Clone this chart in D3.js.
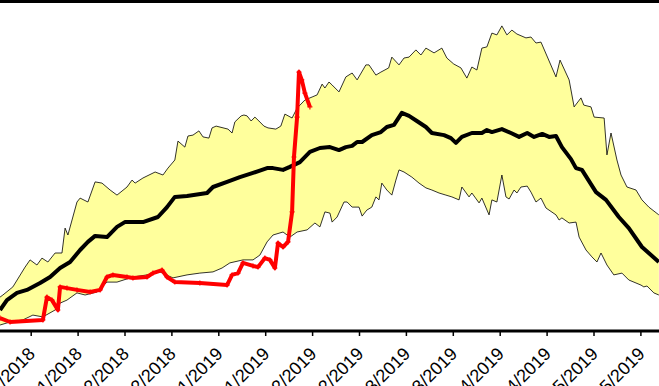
<!DOCTYPE html>
<html><head><meta charset="utf-8">
<script src="https://cdn.jsdelivr.net/npm/d3@7/dist/d3.min.js"></script>
<style>html,body{margin:0;padding:0;background:#fff;overflow:hidden}svg{display:block}</style>
</head><body><div id="chart"></div>
<script>
// x: days since 01/11/2018 ; y: value (arbitrary units, hidden axis)
const tickDays = [0,15,30,45,60,75,90,105,120,135,150,165,180,195];
const tickLabels = ["01/11/2018","15/11/2018","01/12/2018","15/12/2018","01/01/2019","15/01/2019","01/02/2019","15/02/2019","01/03/2019","15/03/2019","01/04/2019","15/04/2019","01/05/2019","15/05/2019"];

const bandUpper = [[-9.8,11.3],[-8.9,12.0],[-5.7,14.7],[-1.8,21.3],[-0.2,23.7],[2.0,22.0],[3.6,24.3],[5.5,23.0],[7.8,26.0],[10.0,26.0],[11.0,34.3],[11.9,32.0],[14.8,43.0],[15.8,44.3],[18.3,43.0],[20.6,49.7],[22.8,49.3],[25.4,47.0],[27.6,45.3],[30.8,48.0],[32.4,50.3],[33.4,49.3],[35.9,51.0],[39.8,53.0],[42.3,52.0],[43.9,54.3],[46.1,57.0],[47.1,63.3],[49.3,61.3],[50.3,65.0],[51.9,65.3],[53.8,66.7],[55.1,64.7],[57.0,64.3],[58.0,67.7],[59.3,68.3],[63.1,67.3],[64.4,66.0],[65.3,69.7],[67.3,71.7],[68.2,72.0],[69.2,71.7],[70.5,70.0],[71.7,71.3],[73.0,70.0],[74.6,68.3],[75.9,67.7],[78.4,67.3],[80.0,68.3],[81.3,72.3],[83.6,71.0],[85.2,74.3],[87.7,77.0],[90.0,78.0],[91.6,78.7],[93.2,82.3],[94.1,81.0],[95.4,83.0],[96.4,82.0],[98.6,79.7],[100.8,84.7],[102.8,86.0],[104.4,83.7],[107.2,88.7],[108.2,88.7],[110.4,85.3],[112.0,86.3],[114.5,87.7],[115.5,91.3],[117.8,88.7],[119.4,91.0],[121.0,91.3],[123.2,93.7],[124.8,92.0],[126.4,94.3],[129.0,92.7],[131.5,94.3],[133.1,91.0],[135.3,89.0],[137.6,87.7],[139.5,84.3],[141.1,88.0],[142.7,87.0],[144.3,94.3],[145.9,94.7],[147.5,99.3],[149.1,98.7],[150.7,101.7],[152.3,98.7],[153.9,100.3],[155.5,99.0],[158.4,97.7],[160.0,98.0],[161.6,96.0],[163.2,96.3],[168.0,84.7],[169.3,90.3],[172.2,83.7],[173.8,74.7],[176.0,77.7],[176.9,75.3],[179.2,74.7],[180.2,71.3],[183.4,71.0],[184.3,58.7],[185.6,66.0],[187.5,57.0],[188.8,52.0],[190.7,48.0],[193.6,47.0],[195.5,43.7],[197.7,41.3],[200.9,38.7]];

const bandLower = [[-9.8,2.0],[-6.6,3.0],[-2.5,3.7],[0.7,5.3],[3.9,4.7],[7.8,7.0],[9.4,9.3],[11.6,10.3],[14.8,12.7],[17.4,12.0],[21.2,13.0],[24.4,16.3],[27.6,16.3],[32.7,18.0],[37.2,18.7],[41.3,19.7],[45.5,17.7],[50.0,18.7],[54.1,19.3],[58.3,19.7],[61.2,21.0],[63.7,22.7],[67.9,23.7],[71.1,23.7],[73.3,25.3],[75.6,29.7],[77.5,32.0],[80.7,33.0],[82.9,31.3],[85.2,33.0],[88.4,33.7],[90.9,36.0],[92.5,34.7],[94.1,39.7],[95.7,39.3],[96.4,36.3],[98.0,38.0],[100.2,43.0],[101.2,43.0],[102.8,41.3],[105.0,41.3],[106.0,38.3],[107.5,40.3],[109.1,41.3],[110.4,44.7],[111.4,43.7],[112.3,49.3],[113.9,47.0],[115.5,45.3],[116.8,50.3],[117.8,53.7],[119.4,53.0],[121.9,51.3],[124.2,49.3],[126.4,47.7],[128.3,47.0],[130.6,46.0],[132.8,45.3],[134.7,44.7],[137.0,43.7],[137.9,48.0],[140.2,44.7],[141.1,46.0],[143.4,42.7],[144.3,44.3],[146.6,38.7],[147.5,43.7],[149.1,43.0],[150.7,52.0],[152.0,44.7],[153.0,44.0],[154.6,47.0],[155.5,46.0],[156.8,48.0],[158.8,48.3],[160.0,46.3],[161.6,43.0],[163.2,44.3],[164.8,41.0],[168.0,38.7],[169.0,37.0],[169.9,37.7],[172.2,36.0],[174.4,36.3],[175.4,31.3],[177.6,27.0],[179.5,24.7],[181.1,23.0],[182.4,26.0],[184.3,22.0],[186.5,18.7],[189.1,19.3],[191.3,17.0],[195.2,15.3],[196.1,14.7],[197.1,15.0],[199.3,12.7],[200.9,12.0]];

const meanSeries = [[-9.8,7.0],[-7.6,10.3],[-4.4,12.7],[-1.2,13.7],[3.0,16.0],[6.2,18.0],[9.4,21.0],[12.6,23.0],[15.8,27.0],[18.3,29.7],[20.6,31.7],[24.4,31.3],[27.6,34.7],[30.1,36.3],[35.9,36.3],[40.7,38.0],[43.6,41.3],[46.1,44.7],[50.0,45.0],[56.4,46.0],[58.3,48.0],[62.8,49.7],[66.9,51.3],[71.1,52.7],[75.6,54.3],[77.5,54.3],[80.7,53.7],[82.9,54.7],[86.1,56.3],[89.3,59.7],[92.5,61.0],[95.7,61.3],[98.6,60.3],[100.8,61.3],[102.8,61.7],[104.4,63.0],[106.0,63.0],[109.1,65.3],[112.0,66.3],[113.9,68.0],[116.2,68.7],[118.7,72.7],[121.0,71.7],[123.5,70.0],[126.4,68.0],[128.3,66.0],[132.2,65.3],[134.4,64.3],[136.0,62.7],[137.9,64.7],[141.1,66.0],[144.3,66.0],[145.9,67.0],[147.5,66.3],[150.7,67.3],[153.6,66.0],[156.2,64.7],[158.8,66.0],[161.0,64.7],[163.6,65.7],[165.8,64.7],[168.0,65.0],[169.9,61.3],[172.8,57.3],[174.4,54.3],[176.3,53.7],[180.8,46.3],[184.0,43.7],[188.1,38.0],[191.3,34.3],[195.5,28.0],[200.9,23.0]];

const currentSeries = [[-9.8,4.3],[-6.6,3.0],[3.9,3.7],[5.2,11.3],[6.8,10.3],[8.7,7.0],[9.4,14.7],[11.6,14.3],[14.8,13.7],[19.0,13.0],[22.2,13.7],[24.4,18.0],[26.3,18.7],[30.8,18.0],[32.7,17.7],[37.2,18.0],[39.1,19.3],[42.0,20.3],[43.6,18.0],[46.1,16.3],[54.1,16.0],[62.8,15.3],[64.4,18.7],[66.3,19.3],[67.9,22.7],[71.1,21.7],[72.7,21.3],[74.9,24.3],[76.5,23.7],[78.1,21.0],[79.1,29.3],[80.7,28.0],[82.3,29.7],[83.6,39.7],[84.2,58.0],[85.2,71.3],[85.8,86.3],[86.7,83.7],[87.7,79.3],[89.3,74.7]];

const W = 659, H = 386;
const x = d3.scaleLinear().domain([0, 15]).range([30.7, 77.6]);
const y = d3.scaleLinear().domain([0, 100]).range([331, 31]);

const svg = d3.select("#chart").append("svg").attr("width", W).attr("height", H);

// band polygon
const lineGen = d3.line().x(d => x(d[0])).y(d => y(d[1]));
const poly = bandUpper.concat(bandLower.slice().reverse());
svg.append("path").attr("d", lineGen(poly) + "Z")
  .attr("fill", "#ffff9c").attr("stroke", "none");
svg.append("path").attr("d", lineGen(bandUpper)).attr("fill", "none").attr("stroke", "#000").attr("stroke-width", 0.8);
svg.append("path").attr("d", lineGen(bandLower)).attr("fill", "none").attr("stroke", "#000").attr("stroke-width", 0.8);

// mean line
svg.append("path").attr("d", lineGen(meanSeries)).attr("fill", "none")
  .attr("stroke", "#000").attr("stroke-width", 4).attr("stroke-linejoin", "round");

// current season
svg.append("path").attr("d", lineGen(currentSeries)).attr("fill", "none")
  .attr("stroke", "#ff0000").attr("stroke-width", 4).attr("stroke-linejoin", "round");
svg.selectAll("path.mk").data(currentSeries).enter().append("path").attr("class","mk")
  .attr("d", d => `M${x(d[0])-2.5},${y(d[1])}h5M${x(d[0])},${y(d[1])-2.5}v5`)
  .attr("stroke", "#ff0000").attr("stroke-width", 1.2);

// top border
svg.append("line").attr("x1", 0).attr("x2", W).attr("y1", 1.5).attr("y2", 1.5)
  .attr("stroke", "#000").attr("stroke-width", 3);

// x axis
const xAxis = d3.axisBottom(x).tickValues(tickDays).tickFormat((d, i) => tickLabels[i]).tickSize(5).tickPadding(0);
const gx = svg.append("g").attr("transform", "translate(0,331)").call(xAxis);
gx.select(".domain").remove();
gx.append("line").attr("x1", 0).attr("x2", W).attr("y1", 0).attr("y2", 0).attr("stroke", "#000").attr("stroke-width", 3);
gx.selectAll(".tick line").attr("stroke", "#000").attr("stroke-width", 1.5);
gx.selectAll(".tick text")
  .attr("font-family", "Liberation Sans, Arial, sans-serif").attr("font-size", 18).attr("fill", "#000")
  .attr("text-anchor", "end").attr("dy", null).attr("y", 0)
  .attr("transform", "translate(5,24) rotate(-45)");
</script></body></html>
